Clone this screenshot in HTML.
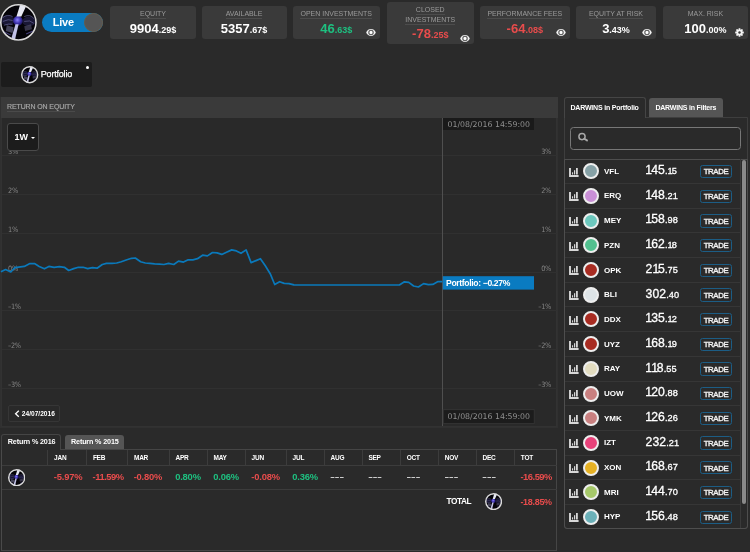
<!DOCTYPE html>
<html><head><meta charset="utf-8">
<style>
*{box-sizing:border-box;margin:0;padding:0}
html,body{width:750px;height:552px;overflow:hidden;background:#2a2a2a}
body{position:relative;font-family:"Liberation Sans",Arial,sans-serif;color:#fff}
.a{position:absolute}
.box{position:absolute;top:6px;height:33px;background:#3a3a3a;border-radius:3px;text-align:center}
.lbl{position:absolute;left:0;right:0;top:4px;font-size:7px;color:#9a9a9a;line-height:8px;white-space:nowrap}
.lbl span{border-bottom:1px solid #4c4c4c;padding-bottom:1px}
.val{position:absolute;left:0;right:0;top:16px;font-size:13px;font-weight:bold;line-height:14px;white-space:nowrap}
.val small{font-size:9px}
.g{color:#1ec080}.r{color:#e84c4c}
</style></head><body>
<svg width="0" height="0" style="position:absolute"><defs>
<radialGradient id="sph" cx="45%" cy="40%" r="60%"><stop offset="0" stop-color="#8a80ff"/><stop offset=".6" stop-color="#3a2ea8"/><stop offset="1" stop-color="#1a1450"/></radialGradient>
<clipPath id="avc"><circle cx="19" cy="19" r="18.6"/></clipPath></defs></svg>
<svg class="a" style="left:0.3px;top:4.2px" width="36.8" height="36.8" viewBox="0 0 38 38">
<circle cx="19" cy="19" r="19" fill="#040308"/>
<g clip-path="url(#avc)">
<ellipse cx="8" cy="17" rx="7" ry="5" fill="#34306a" opacity=".45"/>
<ellipse cx="30" cy="18" rx="7" ry="5" fill="#34306a" opacity=".45"/>
<path d="M3 14 Q8 10 13 13 M3 18 Q9 15 13 17 M4 22 Q9 20 13 21 M25 13 Q31 10 35 15 M25 18 Q31 16 35 20" stroke="#8c88c8" stroke-width=".9" fill="none" opacity=".55"/>
<path d="M7 22 L14 24 L13 30 L6 28Z" fill="#55546e" opacity=".8"/>
<path d="M25 23 L32 21 L33 26 L26 28Z" fill="#4a4962" opacity=".7"/>
<path d="M3 28 L11 32 M27 31 L34 28" stroke="#6c64c4" stroke-width="1.1" opacity=".6"/>
<circle cx="18.5" cy="17.5" r="5" fill="url(#sph)"/>
<path d="M21 0 L28 0 L22 13 L17 13Z" fill="#f2f4ff" opacity=".95"/>
<path d="M16 21 L19.2 21 L15.2 38 L11 38Z" fill="#d6d6ff" opacity=".9"/>
</g><circle cx="19" cy="19" r="18.17" fill="none" stroke="#dadada" stroke-width="1.65"/><g>
</g></svg>

<!-- live toggle -->
<div class="a" style="left:41.8px;top:12.8px;width:61px;height:19.5px;border-radius:10px;background:#0a7bc1"></div>
<div class="a" style="left:52.8px;top:14.6px;font-size:11px;font-weight:bold;line-height:14px;letter-spacing:-0.25px">Live</div>
<div class="a" style="left:84.3px;top:13.1px;width:19px;height:19px;border-radius:50%;background:#555;border:1px solid #6b5a45"></div>

<!-- stat boxes -->
<div class="box" style="left:110px;width:86px"><div class="lbl"><span>EQUITY</span></div><div class="val">9904<small>.29$</small></div></div>
<div class="box" style="left:201.5px;width:85px"><div class="lbl"><span>AVAILABLE</span></div><div class="val">5357<small>.67$</small></div></div>
<div class="box" style="left:292.5px;width:87.5px"><div class="lbl"><span>OPEN INVESTMENTS</span></div><div class="val g">46<small>.63$</small></div></div>
<div class="box" style="left:386.5px;top:2px;height:42px;width:87.5px"><div class="lbl" style="line-height:9.5px;top:3px"><span>CLOSED</span><br><span>INVESTMENTS</span></div><div class="val r" style="top:25px">-78<small>.25$</small></div></div>
<div class="box" style="left:480px;width:89.5px"><div class="lbl"><span>PERFORMANCE FEES</span></div><div class="val r">-64<small>.08$</small></div></div>
<div class="box" style="left:576px;width:80px"><div class="lbl"><span>EQUITY AT RISK</span></div><div class="val">3<small>.43%</small></div></div>
<div class="box" style="left:662.7px;width:85.5px"><div class="lbl">MAX. RISK</div><div class="val">100<small>.00%</small></div></div>
<svg class="a" style="left:366.10px;top:28.00px" width="10" height="9" viewBox="0 0 10 9"><path d="M0.2 4.5 C1.8 -0.1 8.2 -0.1 9.8 4.5 C8.2 9.1 1.8 9.1 0.2 4.5Z" fill="#f2f2f2"/><circle cx="5" cy="4.5" r="2.2" fill="none" stroke="#5a5a5a" stroke-width="1.1"/><circle cx="5" cy="4.4" r="1.1" fill="#fff"/></svg>
<svg class="a" style="left:459.80px;top:33.50px" width="10" height="9" viewBox="0 0 10 9"><path d="M0.2 4.5 C1.8 -0.1 8.2 -0.1 9.8 4.5 C8.2 9.1 1.8 9.1 0.2 4.5Z" fill="#f2f2f2"/><circle cx="5" cy="4.5" r="2.2" fill="none" stroke="#5a5a5a" stroke-width="1.1"/><circle cx="5" cy="4.4" r="1.1" fill="#fff"/></svg>
<svg class="a" style="left:555.60px;top:28.00px" width="10" height="9" viewBox="0 0 10 9"><path d="M0.2 4.5 C1.8 -0.1 8.2 -0.1 9.8 4.5 C8.2 9.1 1.8 9.1 0.2 4.5Z" fill="#f2f2f2"/><circle cx="5" cy="4.5" r="2.2" fill="none" stroke="#5a5a5a" stroke-width="1.1"/><circle cx="5" cy="4.4" r="1.1" fill="#fff"/></svg>
<svg class="a" style="left:642.40px;top:28.00px" width="10" height="9" viewBox="0 0 10 9"><path d="M0.2 4.5 C1.8 -0.1 8.2 -0.1 9.8 4.5 C8.2 9.1 1.8 9.1 0.2 4.5Z" fill="#f2f2f2"/><circle cx="5" cy="4.5" r="2.2" fill="none" stroke="#5a5a5a" stroke-width="1.1"/><circle cx="5" cy="4.4" r="1.1" fill="#fff"/></svg>
<svg class="a" style="left:735.3px;top:27.5px" width="9" height="9" viewBox="-4.5 -4.5 9 9"><g fill="#f4f4f4"><circle r="3.0"/><rect x="-0.9" y="-4.3" width="1.8" height="2.2" rx="0.3" transform="rotate(0)"/><rect x="-0.9" y="-4.3" width="1.8" height="2.2" rx="0.3" transform="rotate(45)"/><rect x="-0.9" y="-4.3" width="1.8" height="2.2" rx="0.3" transform="rotate(90)"/><rect x="-0.9" y="-4.3" width="1.8" height="2.2" rx="0.3" transform="rotate(135)"/><rect x="-0.9" y="-4.3" width="1.8" height="2.2" rx="0.3" transform="rotate(180)"/><rect x="-0.9" y="-4.3" width="1.8" height="2.2" rx="0.3" transform="rotate(225)"/><rect x="-0.9" y="-4.3" width="1.8" height="2.2" rx="0.3" transform="rotate(270)"/><rect x="-0.9" y="-4.3" width="1.8" height="2.2" rx="0.3" transform="rotate(315)"/></g><circle r="1.2" fill="#3a3a3a"/></svg>

<!-- portfolio tab -->
<div class="a" style="left:1.2px;top:62.2px;width:90.5px;height:24.9px;background:#1c1c1c;border-radius:2px"></div>
<svg class="a" style="left:21.2px;top:66.2px" width="17.4" height="17.4" viewBox="0 0 38 38">
<circle cx="19" cy="19" r="19" fill="#040308"/>
<g clip-path="url(#avc)">
<ellipse cx="8" cy="17" rx="7" ry="5" fill="#34306a" opacity=".45"/>
<ellipse cx="30" cy="18" rx="7" ry="5" fill="#34306a" opacity=".45"/>
<path d="M3 14 Q8 10 13 13 M3 18 Q9 15 13 17 M4 22 Q9 20 13 21 M25 13 Q31 10 35 15 M25 18 Q31 16 35 20" stroke="#8c88c8" stroke-width=".9" fill="none" opacity=".55"/>
<path d="M7 22 L14 24 L13 30 L6 28Z" fill="#55546e" opacity=".8"/>
<path d="M25 23 L32 21 L33 26 L26 28Z" fill="#4a4962" opacity=".7"/>
<path d="M3 28 L11 32 M27 31 L34 28" stroke="#6c64c4" stroke-width="1.1" opacity=".6"/>
<circle cx="18.5" cy="17.5" r="5" fill="url(#sph)"/>
<path d="M21 0 L28 0 L22 13 L17 13Z" fill="#f2f4ff" opacity=".95"/>
<path d="M16 21 L19.2 21 L15.2 38 L11 38Z" fill="#d6d6ff" opacity=".9"/>
</g><circle cx="19" cy="19" r="17.42" fill="none" stroke="#dadada" stroke-width="3.17"/><g>
</g></svg>
<div class="a" style="left:40.8px;top:69.2px;font-size:9px;line-height:10px;letter-spacing:-0.2px;-webkit-text-stroke:0.25px #fff">Portfolio</div>
<div class="a" style="left:85.5px;top:65.5px;width:3.5px;height:3.5px;border-radius:50%;background:#fff"></div>

<!-- chart panel -->
<div class="a" style="left:0px;top:97px;width:558px;height:331px;border:1px solid #303030;background:#2c2c2c"></div>
<div class="a" style="left:1px;top:117px;width:556px;height:310px;border:1px solid #323232;border-top:none;background:#292929"></div>
<div class="a" style="left:1px;top:97px;width:556.5px;height:21px;background:#3a3a3a"></div>
<div class="a" style="left:7px;top:103.3px;font-size:7px;color:#a8a8a8;line-height:8px;white-space:nowrap;letter-spacing:-0.12px;-webkit-text-stroke:0.15px #a8a8a8"><span style="border-bottom:1px solid #4a4a4a;padding-bottom:1px">RETURN ON EQUITY</span></div>
<svg class="a" style="left:0;top:117px" width="558" height="310" viewBox="0 117 558 310" font-family="DejaVu Sans">
<g stroke="#303030" stroke-width="1"><line x1="2" x2="557" y1="155.5" y2="155.5"/><line x1="2" x2="557" y1="194.5" y2="194.5"/><line x1="2" x2="557" y1="233.5" y2="233.5"/><line x1="2" x2="557" y1="272.5" y2="272.5"/><line x1="2" x2="557" y1="310.5" y2="310.5"/><line x1="2" x2="557" y1="349.5" y2="349.5"/><line x1="2" x2="557" y1="388.5" y2="388.5"/></g>
<g fill="#858585" font-size="7.3" letter-spacing="-0.3" font-stretch="condensed"><text x="8" y="153.5">3%</text><text x="8" y="192.5">2%</text><text x="8" y="231.5">1%</text><text x="8" y="270.5">0%</text><text x="8" y="308.5">–1%</text><text x="8" y="347.5">–2%</text><text x="8" y="386.5">–3%</text><g text-anchor="end"><text x="551" y="153.5">3%</text><text x="551" y="192.5">2%</text><text x="551" y="231.5">1%</text><text x="551" y="270.5">0%</text><text x="551" y="308.5">–1%</text><text x="551" y="347.5">–2%</text><text x="551" y="386.5">–3%</text></g></g>
<line x1="442.5" x2="442.5" y1="118" y2="426" stroke="#4f4f4f" stroke-width="1"/>
<polyline fill="none" stroke="#0a79bb" stroke-width="1.7" stroke-linejoin="round" points="0.9,271.8 5.6,269.5 10.8,272 14.9,267.7 18.7,267.1 24.3,266.4 29.9,263.6 34.5,263.6 39.2,266.4 44.4,268.8 48.9,266.4 54.1,267.3 59.4,266.7 64.4,267.3 68.7,270.5 73.7,268.6 78.4,267.3 83.1,267.3 87.7,268.6 92.4,267.7 97.1,268.2 102.3,264.5 106.4,263.4 112,263.4 116.7,263 121.3,261.7 126.9,259.8 131.6,258.3 135.3,258 140.6,261.7 145.3,263 149.9,263.4 154.6,263.9 159.3,264.1 163.9,264.5 168.6,263.4 173.8,264.5 178.5,261.1 183.5,262.1 188.2,259.8 192.9,259.8 197.5,258.7 202.6,255.2 207.4,255.9 212.5,252.5 217.1,252.9 221.8,254.4 226.5,252.2 231.7,249.9 236.4,250.9 241,253.3 246.1,249.9 251.1,262.6 256,260.6 260.4,258.7 265.3,265.8 270.2,273.7 274.7,284.5 279.6,281.7 284.2,283.4 288.9,283.6 293.9,284.9 399.4,285 404.4,281.8 408.8,282.4 413.6,286 418.4,287 423.6,283.6 428.4,284.6 432.8,284.4 438,281.6 442.4,281.6"/>
<rect x="443" y="118" width="91" height="12" fill="#1a1a1a"/>
<text x="447.5" y="126.7" fill="#8f8f8f" font-size="7.8">01/08/2016 14:59:00</text>
<rect x="443.3" y="409.6" width="91" height="14" fill="#1c1c1c" stroke="#333" stroke-width="1"/>
<text x="447.6" y="419" fill="#8f8f8f" font-size="7.8">01/08/2016 14:59:00</text>
<rect x="442.8" y="276.2" width="91.2" height="13.4" fill="#0a7bc1"/>
<text x="446" y="286.1" fill="#fff" font-size="8.6" font-weight="bold" font-family="Liberation Sans" letter-spacing="-0.35">Portfolio: −0.27%</text>
</svg>
<div class="a" style="left:7px;top:123.2px;width:32.4px;height:28.3px;background:#1c1c1c;border:1px solid #4a4a4a;border-radius:3px"></div>
<div class="a" style="left:14.5px;top:132px;font-size:9px;font-weight:bold;line-height:10px">1W</div>
<div class="a" style="left:31px;top:137px;width:0;height:0;border-left:2px solid transparent;border-right:2px solid transparent;border-top:2.5px solid #fff"></div>
<div class="a" style="left:7.5px;top:405.3px;width:52.3px;height:16.5px;border:1px solid #363636;border-radius:2px"></div>
<svg class="a" style="left:14px;top:409.5px" width="6" height="8" viewBox="0 0 6 8"><polyline points="4.8,0.8 1.6,3.8 4.8,6.8" fill="none" stroke="#fff" stroke-width="1.3"/></svg>
<div class="a" style="left:21.8px;top:409.8px;font-size:6.6px;font-weight:bold;line-height:8px;white-space:nowrap;letter-spacing:0px">24/07/2016</div>

<!-- right panel -->
<div class="a" style="left:564px;top:97.3px;width:81.5px;height:21px;border:1px solid #454545;border-bottom:none;border-radius:3px 3px 0 0;background:#2a2a2a;z-index:2"></div>
<div class="a" style="left:570.5px;top:103.5px;font-size:7px;font-weight:bold;line-height:8px;white-space:nowrap;letter-spacing:-0.2px;z-index:3">DARWINS in Portfolio</div>
<div class="a" style="left:649px;top:97.6px;width:74px;height:20px;background:#555;border-radius:3px 3px 0 0"></div>
<div class="a" style="left:655.4px;top:103.5px;font-size:7px;font-weight:bold;line-height:8px;white-space:nowrap;letter-spacing:-0.2px">DARWINS in Filters</div>
<div class="a" style="left:564px;top:117.3px;width:183.5px;height:411.5px;border:1px solid #3e3e3e;border-radius:0 0 3px 3px;background:#2a2a2a"></div>
<div class="a" style="left:564px;top:159px;width:183.5px;height:369.8px;border:1px solid #4e4e4e;border-radius:0 0 3px 3px"></div>
<div class="a" style="left:570.4px;top:126.9px;height:23px;border:1.8px solid #777;border-radius:3.5px;width:170.6px"></div>
<svg class="a" style="left:576.5px;top:132px" width="12" height="10" viewBox="0 0 12 10"><circle cx="5" cy="4.6" r="3.1" fill="none" stroke="#a8a8a8" stroke-width="1.5"/><line x1="7.3" y1="6.8" x2="10" y2="8.4" stroke="#a8a8a8" stroke-width="1.9" stroke-linecap="round"/></svg>
<div class="a" style="left:740.3px;top:159px;width:1px;height:369px;background:#3a3a3a"></div>
<div class="a" style="left:742px;top:159.6px;width:3.9px;height:344px;background:#8a8a8a;border-radius:2px"></div>
<svg class="a" style="left:569px;top:167.70px" width="10" height="9.5" viewBox="0 0 10 9.5"><path d="M1 0 V8 H9.6" fill="none" stroke="#d8d8d8" stroke-width="1.9"/><rect x="3" y="4.3" width="1.1" height="2.2" fill="#d8d8d8"/><rect x="5" y="2.2" width="1.2" height="4.3" fill="#d8d8d8"/><rect x="7" y="0" width="1.8" height="6.5" fill="#d8d8d8"/></svg>
<div class="a" style="left:583px;top:163.30px;width:16px;height:16px;border-radius:50%;background:#86a1a6;border:2px solid #eee"></div>
<div class="a" style="left:604px;top:166.80px;font-size:8px;font-weight:bold;line-height:9px">VFL</div>
<div class="a" style="left:645.6px;top:164.07px;font-size:12.2px;line-height:13px;white-space:nowrap;letter-spacing:0.1px;-webkit-text-stroke:0.3px #fff"><span style="margin-left:-0.3px;letter-spacing:-0.90px">1</span>45<span style="font-size:9.2px;letter-spacing:0.05px">.<span style="margin-left:-0px;letter-spacing:-0.90px">1</span>5</span></div>
<div class="a" style="left:700px;top:164.90px;width:32px;height:13.3px;border:1.7px solid #1c5d85;border-radius:2.5px;font-size:7.8px;font-weight:normal;line-height:10px;text-align:center;letter-spacing:-0.35px;padding-top:1.5px;color:#f4f4f4;-webkit-text-stroke:0.35px #f4f4f4">TRADE</div>
<div class="a" style="left:565px;top:183px;width:175.3px;height:1px;background:#363636"></div>
<svg class="a" style="left:569px;top:192.39px" width="10" height="9.5" viewBox="0 0 10 9.5"><path d="M1 0 V8 H9.6" fill="none" stroke="#d8d8d8" stroke-width="1.9"/><rect x="3" y="4.3" width="1.1" height="2.2" fill="#d8d8d8"/><rect x="5" y="2.2" width="1.2" height="4.3" fill="#d8d8d8"/><rect x="7" y="0" width="1.8" height="6.5" fill="#d8d8d8"/></svg>
<div class="a" style="left:583px;top:187.99px;width:16px;height:16px;border-radius:50%;background:#c98fd6;border:2px solid #eee"></div>
<div class="a" style="left:604px;top:191.49px;font-size:8px;font-weight:bold;line-height:9px">ERQ</div>
<div class="a" style="left:645.6px;top:188.76px;font-size:12.2px;line-height:13px;white-space:nowrap;letter-spacing:0.1px;-webkit-text-stroke:0.3px #fff"><span style="margin-left:-0.3px;letter-spacing:-0.90px">1</span>48<span style="font-size:9.2px;letter-spacing:0.05px">.2<span style="margin-left:-0px;letter-spacing:-0.90px">1</span></span></div>
<div class="a" style="left:700px;top:189.59px;width:32px;height:13.3px;border:1.7px solid #1c5d85;border-radius:2.5px;font-size:7.8px;font-weight:normal;line-height:10px;text-align:center;letter-spacing:-0.35px;padding-top:1.5px;color:#f4f4f4;-webkit-text-stroke:0.35px #f4f4f4">TRADE</div>
<div class="a" style="left:565px;top:208px;width:175.3px;height:1px;background:#363636"></div>
<svg class="a" style="left:569px;top:217.08px" width="10" height="9.5" viewBox="0 0 10 9.5"><path d="M1 0 V8 H9.6" fill="none" stroke="#d8d8d8" stroke-width="1.9"/><rect x="3" y="4.3" width="1.1" height="2.2" fill="#d8d8d8"/><rect x="5" y="2.2" width="1.2" height="4.3" fill="#d8d8d8"/><rect x="7" y="0" width="1.8" height="6.5" fill="#d8d8d8"/></svg>
<div class="a" style="left:583px;top:212.68px;width:16px;height:16px;border-radius:50%;background:#6cc7bd;border:2px solid #eee"></div>
<div class="a" style="left:604px;top:216.18px;font-size:8px;font-weight:bold;line-height:9px">MEY</div>
<div class="a" style="left:645.6px;top:213.45px;font-size:12.2px;line-height:13px;white-space:nowrap;letter-spacing:0.1px;-webkit-text-stroke:0.3px #fff"><span style="margin-left:-0.3px;letter-spacing:-0.90px">1</span>58<span style="font-size:9.2px;letter-spacing:0.05px">.98</span></div>
<div class="a" style="left:700px;top:214.28px;width:32px;height:13.3px;border:1.7px solid #1c5d85;border-radius:2.5px;font-size:7.8px;font-weight:normal;line-height:10px;text-align:center;letter-spacing:-0.35px;padding-top:1.5px;color:#f4f4f4;-webkit-text-stroke:0.35px #f4f4f4">TRADE</div>
<div class="a" style="left:565px;top:232px;width:175.3px;height:1px;background:#363636"></div>
<svg class="a" style="left:569px;top:241.77px" width="10" height="9.5" viewBox="0 0 10 9.5"><path d="M1 0 V8 H9.6" fill="none" stroke="#d8d8d8" stroke-width="1.9"/><rect x="3" y="4.3" width="1.1" height="2.2" fill="#d8d8d8"/><rect x="5" y="2.2" width="1.2" height="4.3" fill="#d8d8d8"/><rect x="7" y="0" width="1.8" height="6.5" fill="#d8d8d8"/></svg>
<div class="a" style="left:583px;top:237.37px;width:16px;height:16px;border-radius:50%;background:#52c08f;border:2px solid #eee"></div>
<div class="a" style="left:604px;top:240.87px;font-size:8px;font-weight:bold;line-height:9px">PZN</div>
<div class="a" style="left:645.6px;top:238.14px;font-size:12.2px;line-height:13px;white-space:nowrap;letter-spacing:0.1px;-webkit-text-stroke:0.3px #fff"><span style="margin-left:-0.3px;letter-spacing:-0.90px">1</span>62<span style="font-size:9.2px;letter-spacing:0.05px">.<span style="margin-left:-0px;letter-spacing:-0.90px">1</span>8</span></div>
<div class="a" style="left:700px;top:238.97px;width:32px;height:13.3px;border:1.7px solid #1c5d85;border-radius:2.5px;font-size:7.8px;font-weight:normal;line-height:10px;text-align:center;letter-spacing:-0.35px;padding-top:1.5px;color:#f4f4f4;-webkit-text-stroke:0.35px #f4f4f4">TRADE</div>
<div class="a" style="left:565px;top:257px;width:175.3px;height:1px;background:#363636"></div>
<svg class="a" style="left:569px;top:266.46px" width="10" height="9.5" viewBox="0 0 10 9.5"><path d="M1 0 V8 H9.6" fill="none" stroke="#d8d8d8" stroke-width="1.9"/><rect x="3" y="4.3" width="1.1" height="2.2" fill="#d8d8d8"/><rect x="5" y="2.2" width="1.2" height="4.3" fill="#d8d8d8"/><rect x="7" y="0" width="1.8" height="6.5" fill="#d8d8d8"/></svg>
<div class="a" style="left:583px;top:262.06px;width:16px;height:16px;border-radius:50%;background:#a82c22;border:2px solid #eee"></div>
<div class="a" style="left:604px;top:265.56px;font-size:8px;font-weight:bold;line-height:9px">OPK</div>
<div class="a" style="left:645.6px;top:262.83px;font-size:12.2px;line-height:13px;white-space:nowrap;letter-spacing:0.1px;-webkit-text-stroke:0.3px #fff">2<span style="margin-left:-0px;letter-spacing:-1.20px">1</span>5<span style="font-size:9.2px;letter-spacing:0.05px">.75</span></div>
<div class="a" style="left:700px;top:263.66px;width:32px;height:13.3px;border:1.7px solid #1c5d85;border-radius:2.5px;font-size:7.8px;font-weight:normal;line-height:10px;text-align:center;letter-spacing:-0.35px;padding-top:1.5px;color:#f4f4f4;-webkit-text-stroke:0.35px #f4f4f4">TRADE</div>
<div class="a" style="left:565px;top:282px;width:175.3px;height:1px;background:#363636"></div>
<svg class="a" style="left:569px;top:291.15px" width="10" height="9.5" viewBox="0 0 10 9.5"><path d="M1 0 V8 H9.6" fill="none" stroke="#d8d8d8" stroke-width="1.9"/><rect x="3" y="4.3" width="1.1" height="2.2" fill="#d8d8d8"/><rect x="5" y="2.2" width="1.2" height="4.3" fill="#d8d8d8"/><rect x="7" y="0" width="1.8" height="6.5" fill="#d8d8d8"/></svg>
<div class="a" style="left:583px;top:286.75px;width:16px;height:16px;border-radius:50%;background:#dde3e6;border:2px solid #eee"></div>
<div class="a" style="left:604px;top:290.25px;font-size:8px;font-weight:bold;line-height:9px">BLI</div>
<div class="a" style="left:645.6px;top:287.52px;font-size:12.2px;line-height:13px;white-space:nowrap;letter-spacing:0.1px;-webkit-text-stroke:0.3px #fff">302<span style="font-size:9.2px;letter-spacing:0.05px">.40</span></div>
<div class="a" style="left:700px;top:288.35px;width:32px;height:13.3px;border:1.7px solid #1c5d85;border-radius:2.5px;font-size:7.8px;font-weight:normal;line-height:10px;text-align:center;letter-spacing:-0.35px;padding-top:1.5px;color:#f4f4f4;-webkit-text-stroke:0.35px #f4f4f4">TRADE</div>
<div class="a" style="left:565px;top:306px;width:175.3px;height:1px;background:#363636"></div>
<svg class="a" style="left:569px;top:315.84px" width="10" height="9.5" viewBox="0 0 10 9.5"><path d="M1 0 V8 H9.6" fill="none" stroke="#d8d8d8" stroke-width="1.9"/><rect x="3" y="4.3" width="1.1" height="2.2" fill="#d8d8d8"/><rect x="5" y="2.2" width="1.2" height="4.3" fill="#d8d8d8"/><rect x="7" y="0" width="1.8" height="6.5" fill="#d8d8d8"/></svg>
<div class="a" style="left:583px;top:311.44px;width:16px;height:16px;border-radius:50%;background:#a82c22;border:2px solid #eee"></div>
<div class="a" style="left:604px;top:314.94px;font-size:8px;font-weight:bold;line-height:9px">DDX</div>
<div class="a" style="left:645.6px;top:312.21px;font-size:12.2px;line-height:13px;white-space:nowrap;letter-spacing:0.1px;-webkit-text-stroke:0.3px #fff"><span style="margin-left:-0.3px;letter-spacing:-0.90px">1</span>35<span style="font-size:9.2px;letter-spacing:0.05px">.<span style="margin-left:-0px;letter-spacing:-0.90px">1</span>2</span></div>
<div class="a" style="left:700px;top:313.04px;width:32px;height:13.3px;border:1.7px solid #1c5d85;border-radius:2.5px;font-size:7.8px;font-weight:normal;line-height:10px;text-align:center;letter-spacing:-0.35px;padding-top:1.5px;color:#f4f4f4;-webkit-text-stroke:0.35px #f4f4f4">TRADE</div>
<div class="a" style="left:565px;top:331px;width:175.3px;height:1px;background:#363636"></div>
<svg class="a" style="left:569px;top:340.53px" width="10" height="9.5" viewBox="0 0 10 9.5"><path d="M1 0 V8 H9.6" fill="none" stroke="#d8d8d8" stroke-width="1.9"/><rect x="3" y="4.3" width="1.1" height="2.2" fill="#d8d8d8"/><rect x="5" y="2.2" width="1.2" height="4.3" fill="#d8d8d8"/><rect x="7" y="0" width="1.8" height="6.5" fill="#d8d8d8"/></svg>
<div class="a" style="left:583px;top:336.13px;width:16px;height:16px;border-radius:50%;background:#a82c22;border:2px solid #eee"></div>
<div class="a" style="left:604px;top:339.63px;font-size:8px;font-weight:bold;line-height:9px">UYZ</div>
<div class="a" style="left:645.6px;top:336.90px;font-size:12.2px;line-height:13px;white-space:nowrap;letter-spacing:0.1px;-webkit-text-stroke:0.3px #fff"><span style="margin-left:-0.3px;letter-spacing:-0.90px">1</span>68<span style="font-size:9.2px;letter-spacing:0.05px">.<span style="margin-left:-0px;letter-spacing:-0.90px">1</span>9</span></div>
<div class="a" style="left:700px;top:337.73px;width:32px;height:13.3px;border:1.7px solid #1c5d85;border-radius:2.5px;font-size:7.8px;font-weight:normal;line-height:10px;text-align:center;letter-spacing:-0.35px;padding-top:1.5px;color:#f4f4f4;-webkit-text-stroke:0.35px #f4f4f4">TRADE</div>
<div class="a" style="left:565px;top:356px;width:175.3px;height:1px;background:#363636"></div>
<svg class="a" style="left:569px;top:365.22px" width="10" height="9.5" viewBox="0 0 10 9.5"><path d="M1 0 V8 H9.6" fill="none" stroke="#d8d8d8" stroke-width="1.9"/><rect x="3" y="4.3" width="1.1" height="2.2" fill="#d8d8d8"/><rect x="5" y="2.2" width="1.2" height="4.3" fill="#d8d8d8"/><rect x="7" y="0" width="1.8" height="6.5" fill="#d8d8d8"/></svg>
<div class="a" style="left:583px;top:360.82px;width:16px;height:16px;border-radius:50%;background:#e2dcc0;border:2px solid #eee"></div>
<div class="a" style="left:604px;top:364.32px;font-size:8px;font-weight:bold;line-height:9px">RAY</div>
<div class="a" style="left:645.6px;top:361.59px;font-size:12.2px;line-height:13px;white-space:nowrap;letter-spacing:0.1px;-webkit-text-stroke:0.3px #fff"><span style="margin-left:-0.3px;letter-spacing:-0.90px">1</span><span style="margin-left:-0px;letter-spacing:-1.20px">1</span>8<span style="font-size:9.2px;letter-spacing:0.05px">.55</span></div>
<div class="a" style="left:700px;top:362.42px;width:32px;height:13.3px;border:1.7px solid #1c5d85;border-radius:2.5px;font-size:7.8px;font-weight:normal;line-height:10px;text-align:center;letter-spacing:-0.35px;padding-top:1.5px;color:#f4f4f4;-webkit-text-stroke:0.35px #f4f4f4">TRADE</div>
<div class="a" style="left:565px;top:381px;width:175.3px;height:1px;background:#363636"></div>
<svg class="a" style="left:569px;top:389.91px" width="10" height="9.5" viewBox="0 0 10 9.5"><path d="M1 0 V8 H9.6" fill="none" stroke="#d8d8d8" stroke-width="1.9"/><rect x="3" y="4.3" width="1.1" height="2.2" fill="#d8d8d8"/><rect x="5" y="2.2" width="1.2" height="4.3" fill="#d8d8d8"/><rect x="7" y="0" width="1.8" height="6.5" fill="#d8d8d8"/></svg>
<div class="a" style="left:583px;top:385.51px;width:16px;height:16px;border-radius:50%;background:#c98080;border:2px solid #eee"></div>
<div class="a" style="left:604px;top:389.01px;font-size:8px;font-weight:bold;line-height:9px">UOW</div>
<div class="a" style="left:645.6px;top:386.28px;font-size:12.2px;line-height:13px;white-space:nowrap;letter-spacing:0.1px;-webkit-text-stroke:0.3px #fff"><span style="margin-left:-0.3px;letter-spacing:-0.90px">1</span>20<span style="font-size:9.2px;letter-spacing:0.05px">.88</span></div>
<div class="a" style="left:700px;top:387.11px;width:32px;height:13.3px;border:1.7px solid #1c5d85;border-radius:2.5px;font-size:7.8px;font-weight:normal;line-height:10px;text-align:center;letter-spacing:-0.35px;padding-top:1.5px;color:#f4f4f4;-webkit-text-stroke:0.35px #f4f4f4">TRADE</div>
<div class="a" style="left:565px;top:405px;width:175.3px;height:1px;background:#363636"></div>
<svg class="a" style="left:569px;top:414.60px" width="10" height="9.5" viewBox="0 0 10 9.5"><path d="M1 0 V8 H9.6" fill="none" stroke="#d8d8d8" stroke-width="1.9"/><rect x="3" y="4.3" width="1.1" height="2.2" fill="#d8d8d8"/><rect x="5" y="2.2" width="1.2" height="4.3" fill="#d8d8d8"/><rect x="7" y="0" width="1.8" height="6.5" fill="#d8d8d8"/></svg>
<div class="a" style="left:583px;top:410.20px;width:16px;height:16px;border-radius:50%;background:#c98080;border:2px solid #eee"></div>
<div class="a" style="left:604px;top:413.70px;font-size:8px;font-weight:bold;line-height:9px">YMK</div>
<div class="a" style="left:645.6px;top:410.97px;font-size:12.2px;line-height:13px;white-space:nowrap;letter-spacing:0.1px;-webkit-text-stroke:0.3px #fff"><span style="margin-left:-0.3px;letter-spacing:-0.90px">1</span>26<span style="font-size:9.2px;letter-spacing:0.05px">.26</span></div>
<div class="a" style="left:700px;top:411.80px;width:32px;height:13.3px;border:1.7px solid #1c5d85;border-radius:2.5px;font-size:7.8px;font-weight:normal;line-height:10px;text-align:center;letter-spacing:-0.35px;padding-top:1.5px;color:#f4f4f4;-webkit-text-stroke:0.35px #f4f4f4">TRADE</div>
<div class="a" style="left:565px;top:430px;width:175.3px;height:1px;background:#363636"></div>
<svg class="a" style="left:569px;top:439.29px" width="10" height="9.5" viewBox="0 0 10 9.5"><path d="M1 0 V8 H9.6" fill="none" stroke="#d8d8d8" stroke-width="1.9"/><rect x="3" y="4.3" width="1.1" height="2.2" fill="#d8d8d8"/><rect x="5" y="2.2" width="1.2" height="4.3" fill="#d8d8d8"/><rect x="7" y="0" width="1.8" height="6.5" fill="#d8d8d8"/></svg>
<div class="a" style="left:583px;top:434.89px;width:16px;height:16px;border-radius:50%;background:#e8427a;border:2px solid #eee"></div>
<div class="a" style="left:604px;top:438.39px;font-size:8px;font-weight:bold;line-height:9px">IZT</div>
<div class="a" style="left:645.6px;top:435.66px;font-size:12.2px;line-height:13px;white-space:nowrap;letter-spacing:0.1px;-webkit-text-stroke:0.3px #fff">232<span style="font-size:9.2px;letter-spacing:0.05px">.2<span style="margin-left:-0px;letter-spacing:-0.90px">1</span></span></div>
<div class="a" style="left:700px;top:436.49px;width:32px;height:13.3px;border:1.7px solid #1c5d85;border-radius:2.5px;font-size:7.8px;font-weight:normal;line-height:10px;text-align:center;letter-spacing:-0.35px;padding-top:1.5px;color:#f4f4f4;-webkit-text-stroke:0.35px #f4f4f4">TRADE</div>
<div class="a" style="left:565px;top:455px;width:175.3px;height:1px;background:#363636"></div>
<svg class="a" style="left:569px;top:463.98px" width="10" height="9.5" viewBox="0 0 10 9.5"><path d="M1 0 V8 H9.6" fill="none" stroke="#d8d8d8" stroke-width="1.9"/><rect x="3" y="4.3" width="1.1" height="2.2" fill="#d8d8d8"/><rect x="5" y="2.2" width="1.2" height="4.3" fill="#d8d8d8"/><rect x="7" y="0" width="1.8" height="6.5" fill="#d8d8d8"/></svg>
<div class="a" style="left:583px;top:459.58px;width:16px;height:16px;border-radius:50%;background:#e6b124;border:2px solid #eee"></div>
<div class="a" style="left:604px;top:463.08px;font-size:8px;font-weight:bold;line-height:9px">XON</div>
<div class="a" style="left:645.6px;top:460.35px;font-size:12.2px;line-height:13px;white-space:nowrap;letter-spacing:0.1px;-webkit-text-stroke:0.3px #fff"><span style="margin-left:-0.3px;letter-spacing:-0.90px">1</span>68<span style="font-size:9.2px;letter-spacing:0.05px">.67</span></div>
<div class="a" style="left:700px;top:461.18px;width:32px;height:13.3px;border:1.7px solid #1c5d85;border-radius:2.5px;font-size:7.8px;font-weight:normal;line-height:10px;text-align:center;letter-spacing:-0.35px;padding-top:1.5px;color:#f4f4f4;-webkit-text-stroke:0.35px #f4f4f4">TRADE</div>
<div class="a" style="left:565px;top:479px;width:175.3px;height:1px;background:#363636"></div>
<svg class="a" style="left:569px;top:488.67px" width="10" height="9.5" viewBox="0 0 10 9.5"><path d="M1 0 V8 H9.6" fill="none" stroke="#d8d8d8" stroke-width="1.9"/><rect x="3" y="4.3" width="1.1" height="2.2" fill="#d8d8d8"/><rect x="5" y="2.2" width="1.2" height="4.3" fill="#d8d8d8"/><rect x="7" y="0" width="1.8" height="6.5" fill="#d8d8d8"/></svg>
<div class="a" style="left:583px;top:484.27px;width:16px;height:16px;border-radius:50%;background:#a6c86a;border:2px solid #eee"></div>
<div class="a" style="left:604px;top:487.77px;font-size:8px;font-weight:bold;line-height:9px">MRI</div>
<div class="a" style="left:645.6px;top:485.04px;font-size:12.2px;line-height:13px;white-space:nowrap;letter-spacing:0.1px;-webkit-text-stroke:0.3px #fff"><span style="margin-left:-0.3px;letter-spacing:-0.90px">1</span>44<span style="font-size:9.2px;letter-spacing:0.05px">.70</span></div>
<div class="a" style="left:700px;top:485.87px;width:32px;height:13.3px;border:1.7px solid #1c5d85;border-radius:2.5px;font-size:7.8px;font-weight:normal;line-height:10px;text-align:center;letter-spacing:-0.35px;padding-top:1.5px;color:#f4f4f4;-webkit-text-stroke:0.35px #f4f4f4">TRADE</div>
<div class="a" style="left:565px;top:504px;width:175.3px;height:1px;background:#363636"></div>
<svg class="a" style="left:569px;top:513.36px" width="10" height="9.5" viewBox="0 0 10 9.5"><path d="M1 0 V8 H9.6" fill="none" stroke="#d8d8d8" stroke-width="1.9"/><rect x="3" y="4.3" width="1.1" height="2.2" fill="#d8d8d8"/><rect x="5" y="2.2" width="1.2" height="4.3" fill="#d8d8d8"/><rect x="7" y="0" width="1.8" height="6.5" fill="#d8d8d8"/></svg>
<div class="a" style="left:583px;top:508.96px;width:16px;height:16px;border-radius:50%;background:#6bb0b8;border:2px solid #eee"></div>
<div class="a" style="left:604px;top:512.46px;font-size:8px;font-weight:bold;line-height:9px">HYP</div>
<div class="a" style="left:645.6px;top:509.73px;font-size:12.2px;line-height:13px;white-space:nowrap;letter-spacing:0.1px;-webkit-text-stroke:0.3px #fff"><span style="margin-left:-0.3px;letter-spacing:-0.90px">1</span>56<span style="font-size:9.2px;letter-spacing:0.05px">.48</span></div>
<div class="a" style="left:700px;top:510.56px;width:32px;height:13.3px;border:1.7px solid #1c5d85;border-radius:2.5px;font-size:7.8px;font-weight:normal;line-height:10px;text-align:center;letter-spacing:-0.35px;padding-top:1.5px;color:#f4f4f4;-webkit-text-stroke:0.35px #f4f4f4">TRADE</div>

<!-- bottom table -->
<div class="a" style="left:1px;top:448.8px;width:556px;height:102.7px;border:1px solid #454545;border-left-color:#4a4a4a"></div>
<div class="a" style="left:1.2px;top:434.3px;width:59.6px;height:16px;border:1px solid #454545;border-bottom:none;border-radius:3px 3px 0 0;background:#2a2a2a"></div>
<div class="a" style="left:7.8px;top:437.8px;font-size:7.2px;line-height:8px;white-space:nowrap;font-weight:bold;letter-spacing:-0.15px">Return % 2016</div>
<div class="a" style="left:64.8px;top:435px;width:59.2px;height:14px;background:#555;border-radius:3px 3px 0 0"></div>
<div class="a" style="left:71px;top:438.3px;font-size:7.2px;line-height:8px;white-space:nowrap;font-weight:bold;letter-spacing:-0.15px">Return % 2015</div>
<div class="a" style="left:2px;top:464.8px;width:554.5px;height:1px;background:#3c3c3c"></div>
<div class="a" style="left:2px;top:488.9px;width:554.5px;height:1px;background:#3c3c3c"></div>
<div class="a" style="left:47.20px;top:449.5px;width:1px;height:15.5px;background:#3c3c3c"></div>
<div class="a" style="left:86.00px;top:449.5px;width:1px;height:15.5px;background:#3c3c3c"></div>
<div class="a" style="left:127.10px;top:449.5px;width:1px;height:15.5px;background:#3c3c3c"></div>
<div class="a" style="left:168.60px;top:449.5px;width:1px;height:15.5px;background:#3c3c3c"></div>
<div class="a" style="left:206.70px;top:449.5px;width:1px;height:15.5px;background:#3c3c3c"></div>
<div class="a" style="left:244.70px;top:449.5px;width:1px;height:15.5px;background:#3c3c3c"></div>
<div class="a" style="left:285.70px;top:449.5px;width:1px;height:15.5px;background:#3c3c3c"></div>
<div class="a" style="left:323.60px;top:449.5px;width:1px;height:15.5px;background:#3c3c3c"></div>
<div class="a" style="left:361.50px;top:449.5px;width:1px;height:15.5px;background:#3c3c3c"></div>
<div class="a" style="left:399.80px;top:449.5px;width:1px;height:15.5px;background:#3c3c3c"></div>
<div class="a" style="left:437.80px;top:449.5px;width:1px;height:15.5px;background:#3c3c3c"></div>
<div class="a" style="left:475.70px;top:449.5px;width:1px;height:15.5px;background:#3c3c3c"></div>
<div class="a" style="left:513.90px;top:449.5px;width:1px;height:15.5px;background:#3c3c3c"></div>
<div class="a" style="left:54.10px;top:454.2px;font-size:6.5px;font-weight:bold;line-height:7px;letter-spacing:-0.25px">JAN</div>
<div class="a r" style="left:53.80px;top:471.6px;font-size:9.4px;font-weight:bold;line-height:10px;white-space:nowrap;letter-spacing:-0.2px">-5.97%</div>
<div class="a" style="left:92.90px;top:454.2px;font-size:6.5px;font-weight:bold;line-height:7px;letter-spacing:-0.25px">FEB</div>
<div class="a r" style="left:92.60px;top:471.6px;font-size:9.4px;font-weight:bold;line-height:10px;white-space:nowrap;letter-spacing:-0.5px">-11.59%</div>
<div class="a" style="left:134.00px;top:454.2px;font-size:6.5px;font-weight:bold;line-height:7px;letter-spacing:-0.25px">MAR</div>
<div class="a r" style="left:133.70px;top:471.6px;font-size:9.4px;font-weight:bold;line-height:10px;white-space:nowrap;letter-spacing:-0.2px">-0.80%</div>
<div class="a" style="left:175.50px;top:454.2px;font-size:6.5px;font-weight:bold;line-height:7px;letter-spacing:-0.25px">APR</div>
<div class="a g" style="left:175.20px;top:471.6px;font-size:9.4px;font-weight:bold;line-height:10px;white-space:nowrap;letter-spacing:-0.2px">0.80%</div>
<div class="a" style="left:213.60px;top:454.2px;font-size:6.5px;font-weight:bold;line-height:7px;letter-spacing:-0.25px">MAY</div>
<div class="a g" style="left:213.30px;top:471.6px;font-size:9.4px;font-weight:bold;line-height:10px;white-space:nowrap;letter-spacing:-0.2px">0.06%</div>
<div class="a" style="left:251.60px;top:454.2px;font-size:6.5px;font-weight:bold;line-height:7px;letter-spacing:-0.25px">JUN</div>
<div class="a r" style="left:251.30px;top:471.6px;font-size:9.4px;font-weight:bold;line-height:10px;white-space:nowrap;letter-spacing:-0.2px">-0.08%</div>
<div class="a" style="left:292.60px;top:454.2px;font-size:6.5px;font-weight:bold;line-height:7px;letter-spacing:-0.25px">JUL</div>
<div class="a g" style="left:292.30px;top:471.6px;font-size:9.4px;font-weight:bold;line-height:10px;white-space:nowrap;letter-spacing:-0.2px">0.36%</div>
<div class="a" style="left:330.50px;top:454.2px;font-size:6.5px;font-weight:bold;line-height:7px;letter-spacing:-0.25px">AUG</div>
<div class="a " style="left:330.20px;top:471.6px;font-size:9.4px;font-weight:bold;line-height:10px;white-space:nowrap;letter-spacing:0.55px;font-weight:bold;font-size:7.3px;margin-top:0.7px;margin-left:0.3px">–––</div>
<div class="a" style="left:368.40px;top:454.2px;font-size:6.5px;font-weight:bold;line-height:7px;letter-spacing:-0.25px">SEP</div>
<div class="a " style="left:368.10px;top:471.6px;font-size:9.4px;font-weight:bold;line-height:10px;white-space:nowrap;letter-spacing:0.55px;font-weight:bold;font-size:7.3px;margin-top:0.7px;margin-left:0.3px">–––</div>
<div class="a" style="left:406.70px;top:454.2px;font-size:6.5px;font-weight:bold;line-height:7px;letter-spacing:-0.25px">OCT</div>
<div class="a " style="left:406.40px;top:471.6px;font-size:9.4px;font-weight:bold;line-height:10px;white-space:nowrap;letter-spacing:0.55px;font-weight:bold;font-size:7.3px;margin-top:0.7px;margin-left:0.3px">–––</div>
<div class="a" style="left:444.70px;top:454.2px;font-size:6.5px;font-weight:bold;line-height:7px;letter-spacing:-0.25px">NOV</div>
<div class="a " style="left:444.40px;top:471.6px;font-size:9.4px;font-weight:bold;line-height:10px;white-space:nowrap;letter-spacing:0.55px;font-weight:bold;font-size:7.3px;margin-top:0.7px;margin-left:0.3px">–––</div>
<div class="a" style="left:482.60px;top:454.2px;font-size:6.5px;font-weight:bold;line-height:7px;letter-spacing:-0.25px">DEC</div>
<div class="a " style="left:482.30px;top:471.6px;font-size:9.4px;font-weight:bold;line-height:10px;white-space:nowrap;letter-spacing:0.55px;font-weight:bold;font-size:7.3px;margin-top:0.7px;margin-left:0.3px">–––</div>
<div class="a" style="left:520.80px;top:454.2px;font-size:6.5px;font-weight:bold;line-height:7px;letter-spacing:-0.25px">TOT</div>
<div class="a r" style="left:520.50px;top:471.6px;font-size:9.4px;font-weight:bold;line-height:10px;white-space:nowrap;letter-spacing:-0.5px">-16.59%</div>
<svg class="a" style="left:7.7px;top:468.8px" width="17.4" height="17.4" viewBox="0 0 38 38">
<circle cx="19" cy="19" r="19" fill="#040308"/>
<g clip-path="url(#avc)">
<ellipse cx="8" cy="17" rx="7" ry="5" fill="#34306a" opacity=".45"/>
<ellipse cx="30" cy="18" rx="7" ry="5" fill="#34306a" opacity=".45"/>
<path d="M3 14 Q8 10 13 13 M3 18 Q9 15 13 17 M4 22 Q9 20 13 21 M25 13 Q31 10 35 15 M25 18 Q31 16 35 20" stroke="#8c88c8" stroke-width=".9" fill="none" opacity=".55"/>
<path d="M7 22 L14 24 L13 30 L6 28Z" fill="#55546e" opacity=".8"/>
<path d="M25 23 L32 21 L33 26 L26 28Z" fill="#4a4962" opacity=".7"/>
<path d="M3 28 L11 32 M27 31 L34 28" stroke="#6c64c4" stroke-width="1.1" opacity=".6"/>
<circle cx="18.5" cy="17.5" r="5" fill="url(#sph)"/>
<path d="M21 0 L28 0 L22 13 L17 13Z" fill="#f2f4ff" opacity=".95"/>
<path d="M16 21 L19.2 21 L15.2 38 L11 38Z" fill="#d6d6ff" opacity=".9"/>
</g><circle cx="19" cy="19" r="17.42" fill="none" stroke="#dadada" stroke-width="3.17"/><g>
</g></svg>
<div class="a" style="left:446.6px;top:497.3px;font-size:8.3px;font-weight:bold;line-height:9px;letter-spacing:-0.45px">TOTAL</div>
<svg class="a" style="left:484.8px;top:492.8px" width="17.2" height="17.2" viewBox="0 0 38 38">
<circle cx="19" cy="19" r="19" fill="#040308"/>
<g clip-path="url(#avc)">
<ellipse cx="8" cy="17" rx="7" ry="5" fill="#34306a" opacity=".45"/>
<ellipse cx="30" cy="18" rx="7" ry="5" fill="#34306a" opacity=".45"/>
<path d="M3 14 Q8 10 13 13 M3 18 Q9 15 13 17 M4 22 Q9 20 13 21 M25 13 Q31 10 35 15 M25 18 Q31 16 35 20" stroke="#8c88c8" stroke-width=".9" fill="none" opacity=".55"/>
<path d="M7 22 L14 24 L13 30 L6 28Z" fill="#55546e" opacity=".8"/>
<path d="M25 23 L32 21 L33 26 L26 28Z" fill="#4a4962" opacity=".7"/>
<path d="M3 28 L11 32 M27 31 L34 28" stroke="#6c64c4" stroke-width="1.1" opacity=".6"/>
<circle cx="18.5" cy="17.5" r="5" fill="url(#sph)"/>
<path d="M21 0 L28 0 L22 13 L17 13Z" fill="#f2f4ff" opacity=".95"/>
<path d="M16 21 L19.2 21 L15.2 38 L11 38Z" fill="#d6d6ff" opacity=".9"/>
</g><circle cx="19" cy="19" r="17.40" fill="none" stroke="#dadada" stroke-width="3.20"/><g>
</g></svg>
<div class="a r" style="left:520.4px;top:497px;font-size:9px;font-weight:bold;line-height:10px;letter-spacing:-0.3px">-18.85%</div>
</body></html>
